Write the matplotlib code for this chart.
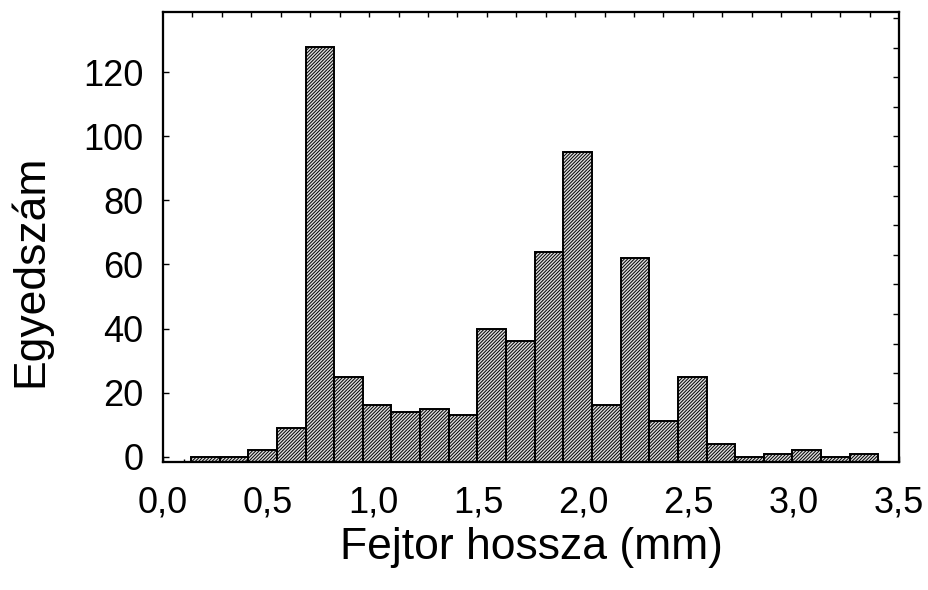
import numpy as np
import matplotlib
matplotlib.use("Agg")
from matplotlib import pyplot as plt

plt.rcParams['font.family'] = ['Liberation Sans', 'DejaVu Sans']
plt.rcParams['hatch.linewidth'] = 0.7

# head length histogram: 24 bins between the smallest and largest measurement
bin_start = 0.133
bin_width = 0.1362
counts = [0, 0, 2, 9, 128, 25, 16, 14, 15, 13, 40, 36,
          64, 95, 16, 62, 11, 25, 4, 0, 1, 2, 0, 1]

x_ticks = [0.0, 0.5, 1.0, 1.5, 2.0, 2.5, 3.0, 3.5]
x_ticklabels = ['0,0', '0,5', '1,0', '1,5', '2,0', '2,5', '3,0', '3,5']
y_ticks = [0, 20, 40, 60, 80, 100, 120]
y_ticklabels = ['0', '20', '40', '60', '80', '100', '120']

y_lo, y_hi = -1.65, 138.8

fig = plt.figure(figsize=(9.29, 5.90), dpi=100)
ax = fig.add_axes([0.1755, 0.2169, 0.7922, 0.7628])

lefts = bin_start + bin_width * np.arange(len(counts))
heights = np.array(counts) - y_lo
ax.bar(lefts, heights, width=bin_width, bottom=y_lo, align='edge',
       facecolor='#dcdcdc', edgecolor='black', linewidth=1.4,
       hatch='//////////', zorder=2)

ax.set_xlim(0, 3.5)
ax.set_ylim(y_lo, y_hi)

ax.set_xticks(x_ticks)
ax.set_xticklabels(x_ticklabels)
ax.set_xticks(np.arange(0, 3.51, 0.1), minor=True)
ax.set_yticks(y_ticks)
ax.set_yticklabels(y_ticklabels)

ax.tick_params(axis='x', which='major', direction='in', length=4, width=1,
               labelsize=26, pad=17)
ax.tick_params(axis='x', which='minor', direction='in', length=2, width=1)
ax.tick_params(axis='y', which='major', direction='in', length=4, width=1,
               labelsize=26, pad=14)
for s in ax.spines.values():
    s.set_linewidth(1.5)

# frame ticks on the top and right edges, no labels
ax_top = ax.twiny()
ax_top.set_xlim(0, 3.5)
ax_top.set_xticks(np.arange(1, 25) * 0.14)
ax_top.tick_params(axis='x', direction='in', length=3.3, width=1,
                   labeltop=False, top=True)
ax_right = ax.twinx()
ax_right.set_ylim(y_lo, y_hi)
ax_right.set_yticks(y_lo + np.arange(1, 16) * 9.24)
ax_right.tick_params(axis='y', direction='in', length=4, width=1,
                     labelright=False, right=True)
for a in (ax_top, ax_right):
    for s in a.spines.values():
        s.set_linewidth(1.5)

ax.set_xlabel('Fejtor hossza (mm)', fontsize=32)
ax.xaxis.set_label_coords(0.5, -0.145)
ax.set_ylabel('Egyedszám', fontsize=32, va='center')
ax.yaxis.set_label_coords(-0.181, 0.424)

fig.savefig('out.png', dpi=100)
